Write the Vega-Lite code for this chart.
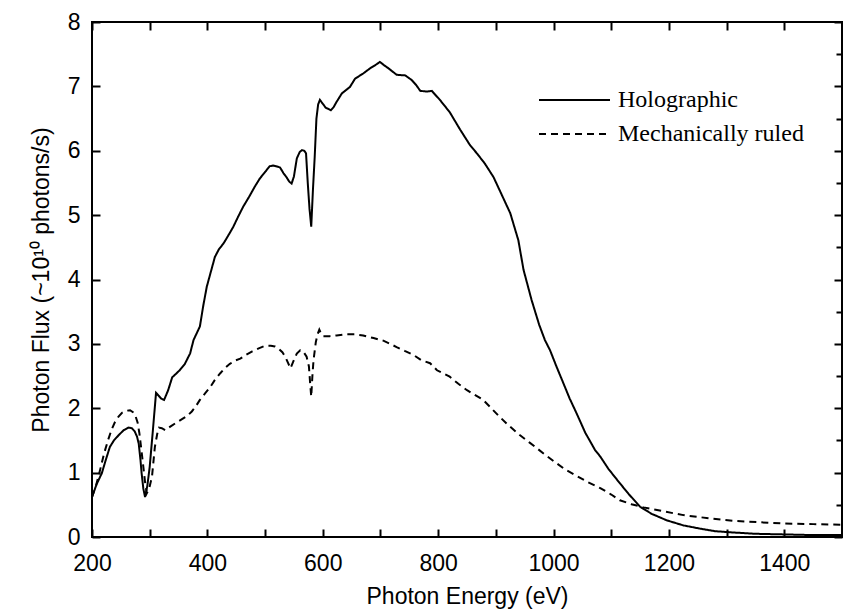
{
  "$schema": "https://vega.github.io/schema/vega-lite/v6.json",
  "autosize": "none",
  "width": 750,
  "height": 515,
  "padding": {"left": 92, "top": 22, "right": 1, "bottom": 78},
  "background": "white",
  "config": {
    "view": {"stroke": "black", "strokeWidth": 2},
    "axis": {
      "grid": false,
      "domain": false,
      "ticks": true,
      "tickColor": "black",
      "tickWidth": 2,
      "tickSize": 8,
      "offset": -8,
      "zindex": 1,
      "labelFont": "Liberation Sans",
      "labelFontSize": 23,
      "labelColor": "black",
      "titleFont": "Liberation Sans",
      "titleFontSize": 23,
      "titleFontWeight": "normal",
      "titleColor": "black",
      "labelOverlap": false,
      "labelFlush": false
    }
  },
  "datasets": {
    "curves": [
      {"E":200,"F":0.62,"series":"Holographic"},
      {"E":208,"F":0.82,"series":"Holographic"},
      {"E":217,"F":0.99,"series":"Holographic"},
      {"E":224,"F":1.2,"series":"Holographic"},
      {"E":231,"F":1.4,"series":"Holographic"},
      {"E":238,"F":1.5,"series":"Holographic"},
      {"E":246,"F":1.58,"series":"Holographic"},
      {"E":255,"F":1.66,"series":"Holographic"},
      {"E":263,"F":1.7,"series":"Holographic"},
      {"E":269,"F":1.69,"series":"Holographic"},
      {"E":274,"F":1.64,"series":"Holographic"},
      {"E":278,"F":1.56,"series":"Holographic"},
      {"E":281,"F":1.45,"series":"Holographic"},
      {"E":284,"F":1.2,"series":"Holographic"},
      {"E":286,"F":0.99,"series":"Holographic"},
      {"E":289,"F":0.75,"series":"Holographic"},
      {"E":292,"F":0.62,"series":"Holographic"},
      {"E":296,"F":0.8,"series":"Holographic"},
      {"E":300,"F":1.09,"series":"Holographic"},
      {"E":305,"F":1.6,"series":"Holographic"},
      {"E":311,"F":2.24,"series":"Holographic"},
      {"E":315,"F":2.2,"series":"Holographic"},
      {"E":320,"F":2.15,"series":"Holographic"},
      {"E":325,"F":2.13,"series":"Holographic"},
      {"E":332,"F":2.28,"series":"Holographic"},
      {"E":339,"F":2.48,"series":"Holographic"},
      {"E":345,"F":2.53,"series":"Holographic"},
      {"E":352,"F":2.59,"series":"Holographic"},
      {"E":361,"F":2.69,"series":"Holographic"},
      {"E":370,"F":2.85,"series":"Holographic"},
      {"E":376,"F":3.06,"series":"Holographic"},
      {"E":387,"F":3.27,"series":"Holographic"},
      {"E":393,"F":3.6,"series":"Holographic"},
      {"E":399,"F":3.89,"series":"Holographic"},
      {"E":406,"F":4.12,"series":"Holographic"},
      {"E":413,"F":4.35,"series":"Holographic"},
      {"E":420,"F":4.47,"series":"Holographic"},
      {"E":428,"F":4.56,"series":"Holographic"},
      {"E":436,"F":4.68,"series":"Holographic"},
      {"E":445,"F":4.82,"series":"Holographic"},
      {"E":453,"F":4.97,"series":"Holographic"},
      {"E":462,"F":5.13,"series":"Holographic"},
      {"E":472,"F":5.28,"series":"Holographic"},
      {"E":482,"F":5.44,"series":"Holographic"},
      {"E":491,"F":5.57,"series":"Holographic"},
      {"E":500,"F":5.67,"series":"Holographic"},
      {"E":508,"F":5.76,"series":"Holographic"},
      {"E":514,"F":5.77,"series":"Holographic"},
      {"E":519,"F":5.76,"series":"Holographic"},
      {"E":526,"F":5.74,"series":"Holographic"},
      {"E":532,"F":5.65,"series":"Holographic"},
      {"E":537,"F":5.59,"series":"Holographic"},
      {"E":542,"F":5.52,"series":"Holographic"},
      {"E":546,"F":5.49,"series":"Holographic"},
      {"E":550,"F":5.6,"series":"Holographic"},
      {"E":555,"F":5.88,"series":"Holographic"},
      {"E":560,"F":5.98,"series":"Holographic"},
      {"E":564,"F":6.01,"series":"Holographic"},
      {"E":568,"F":6.0,"series":"Holographic"},
      {"E":571,"F":5.96,"series":"Holographic"},
      {"E":574,"F":5.5,"series":"Holographic"},
      {"E":577,"F":5.1,"series":"Holographic"},
      {"E":580,"F":4.82,"series":"Holographic"},
      {"E":583,"F":5.4,"series":"Holographic"},
      {"E":586,"F":5.9,"series":"Holographic"},
      {"E":589,"F":6.5,"series":"Holographic"},
      {"E":592,"F":6.72,"series":"Holographic"},
      {"E":595,"F":6.79,"series":"Holographic"},
      {"E":600,"F":6.73,"series":"Holographic"},
      {"E":605,"F":6.67,"series":"Holographic"},
      {"E":614,"F":6.63,"series":"Holographic"},
      {"E":619,"F":6.68,"series":"Holographic"},
      {"E":624,"F":6.76,"series":"Holographic"},
      {"E":633,"F":6.89,"series":"Holographic"},
      {"E":647,"F":6.99,"series":"Holographic"},
      {"E":656,"F":7.12,"series":"Holographic"},
      {"E":670,"F":7.2,"series":"Holographic"},
      {"E":682,"F":7.28,"series":"Holographic"},
      {"E":691,"F":7.33,"series":"Holographic"},
      {"E":699,"F":7.38,"series":"Holographic"},
      {"E":706,"F":7.33,"series":"Holographic"},
      {"E":714,"F":7.28,"series":"Holographic"},
      {"E":728,"F":7.18,"series":"Holographic"},
      {"E":743,"F":7.17,"series":"Holographic"},
      {"E":754,"F":7.1,"series":"Holographic"},
      {"E":762,"F":7.02,"series":"Holographic"},
      {"E":769,"F":6.93,"series":"Holographic"},
      {"E":780,"F":6.92,"series":"Holographic"},
      {"E":789,"F":6.93,"series":"Holographic"},
      {"E":803,"F":6.79,"series":"Holographic"},
      {"E":820,"F":6.6,"series":"Holographic"},
      {"E":838,"F":6.33,"series":"Holographic"},
      {"E":855,"F":6.09,"series":"Holographic"},
      {"E":868,"F":5.95,"series":"Holographic"},
      {"E":881,"F":5.8,"series":"Holographic"},
      {"E":896,"F":5.59,"series":"Holographic"},
      {"E":910,"F":5.32,"series":"Holographic"},
      {"E":925,"F":5.03,"series":"Holographic"},
      {"E":939,"F":4.61,"series":"Holographic"},
      {"E":948,"F":4.15,"series":"Holographic"},
      {"E":962,"F":3.68,"series":"Holographic"},
      {"E":975,"F":3.3,"series":"Holographic"},
      {"E":985,"F":3.06,"series":"Holographic"},
      {"E":994,"F":2.9,"series":"Holographic"},
      {"E":1005,"F":2.65,"series":"Holographic"},
      {"E":1017,"F":2.39,"series":"Holographic"},
      {"E":1028,"F":2.15,"series":"Holographic"},
      {"E":1040,"F":1.92,"series":"Holographic"},
      {"E":1055,"F":1.62,"series":"Holographic"},
      {"E":1072,"F":1.35,"series":"Holographic"},
      {"E":1081,"F":1.25,"series":"Holographic"},
      {"E":1095,"F":1.06,"series":"Holographic"},
      {"E":1110,"F":0.89,"series":"Holographic"},
      {"E":1130,"F":0.67,"series":"Holographic"},
      {"E":1150,"F":0.47,"series":"Holographic"},
      {"E":1170,"F":0.36,"series":"Holographic"},
      {"E":1196,"F":0.26,"series":"Holographic"},
      {"E":1225,"F":0.18,"series":"Holographic"},
      {"E":1254,"F":0.13,"series":"Holographic"},
      {"E":1280,"F":0.09,"series":"Holographic"},
      {"E":1312,"F":0.07,"series":"Holographic"},
      {"E":1350,"F":0.05,"series":"Holographic"},
      {"E":1400,"F":0.04,"series":"Holographic"},
      {"E":1450,"F":0.03,"series":"Holographic"},
      {"E":1500,"F":0.03,"series":"Holographic"},
      {"E":200,"F":0.62,"series":"Mechanically ruled"},
      {"E":207,"F":0.8,"series":"Mechanically ruled"},
      {"E":214,"F":1.04,"series":"Mechanically ruled"},
      {"E":221,"F":1.3,"series":"Mechanically ruled"},
      {"E":228,"F":1.51,"series":"Mechanically ruled"},
      {"E":234,"F":1.67,"series":"Mechanically ruled"},
      {"E":240,"F":1.79,"series":"Mechanically ruled"},
      {"E":246,"F":1.87,"series":"Mechanically ruled"},
      {"E":252,"F":1.93,"series":"Mechanically ruled"},
      {"E":259,"F":1.96,"series":"Mechanically ruled"},
      {"E":266,"F":1.97,"series":"Mechanically ruled"},
      {"E":271,"F":1.94,"series":"Mechanically ruled"},
      {"E":275,"F":1.89,"series":"Mechanically ruled"},
      {"E":279,"F":1.78,"series":"Mechanically ruled"},
      {"E":282,"F":1.62,"series":"Mechanically ruled"},
      {"E":285,"F":1.4,"series":"Mechanically ruled"},
      {"E":289,"F":1.09,"series":"Mechanically ruled"},
      {"E":292,"F":0.85,"series":"Mechanically ruled"},
      {"E":295,"F":0.68,"series":"Mechanically ruled"},
      {"E":299,"F":0.75,"series":"Mechanically ruled"},
      {"E":304,"F":0.94,"series":"Mechanically ruled"},
      {"E":309,"F":1.4,"series":"Mechanically ruled"},
      {"E":313,"F":1.6,"series":"Mechanically ruled"},
      {"E":316,"F":1.7,"series":"Mechanically ruled"},
      {"E":321,"F":1.69,"series":"Mechanically ruled"},
      {"E":327,"F":1.66,"series":"Mechanically ruled"},
      {"E":335,"F":1.71,"series":"Mechanically ruled"},
      {"E":345,"F":1.77,"series":"Mechanically ruled"},
      {"E":356,"F":1.83,"series":"Mechanically ruled"},
      {"E":365,"F":1.88,"series":"Mechanically ruled"},
      {"E":373,"F":1.95,"series":"Mechanically ruled"},
      {"E":380,"F":2.03,"series":"Mechanically ruled"},
      {"E":387,"F":2.13,"series":"Mechanically ruled"},
      {"E":396,"F":2.23,"series":"Mechanically ruled"},
      {"E":405,"F":2.33,"series":"Mechanically ruled"},
      {"E":413,"F":2.44,"series":"Mechanically ruled"},
      {"E":422,"F":2.54,"series":"Mechanically ruled"},
      {"E":430,"F":2.62,"series":"Mechanically ruled"},
      {"E":439,"F":2.69,"series":"Mechanically ruled"},
      {"E":448,"F":2.74,"series":"Mechanically ruled"},
      {"E":457,"F":2.77,"series":"Mechanically ruled"},
      {"E":467,"F":2.83,"series":"Mechanically ruled"},
      {"E":477,"F":2.88,"series":"Mechanically ruled"},
      {"E":489,"F":2.93,"series":"Mechanically ruled"},
      {"E":500,"F":2.97,"series":"Mechanically ruled"},
      {"E":510,"F":2.97,"series":"Mechanically ruled"},
      {"E":517,"F":2.96,"series":"Mechanically ruled"},
      {"E":523,"F":2.93,"series":"Mechanically ruled"},
      {"E":530,"F":2.87,"series":"Mechanically ruled"},
      {"E":535,"F":2.8,"series":"Mechanically ruled"},
      {"E":540,"F":2.7,"series":"Mechanically ruled"},
      {"E":544,"F":2.62,"series":"Mechanically ruled"},
      {"E":550,"F":2.75,"series":"Mechanically ruled"},
      {"E":555,"F":2.85,"series":"Mechanically ruled"},
      {"E":561,"F":2.9,"series":"Mechanically ruled"},
      {"E":567,"F":2.87,"series":"Mechanically ruled"},
      {"E":572,"F":2.8,"series":"Mechanically ruled"},
      {"E":576,"F":2.65,"series":"Mechanically ruled"},
      {"E":578,"F":2.4,"series":"Mechanically ruled"},
      {"E":580,"F":2.18,"series":"Mechanically ruled"},
      {"E":582,"F":2.5,"series":"Mechanically ruled"},
      {"E":584,"F":2.75,"series":"Mechanically ruled"},
      {"E":588,"F":3.03,"series":"Mechanically ruled"},
      {"E":591,"F":3.15,"series":"Mechanically ruled"},
      {"E":594,"F":3.22,"series":"Mechanically ruled"},
      {"E":597,"F":3.16,"series":"Mechanically ruled"},
      {"E":601,"F":3.12,"series":"Mechanically ruled"},
      {"E":612,"F":3.12,"series":"Mechanically ruled"},
      {"E":624,"F":3.13,"series":"Mechanically ruled"},
      {"E":641,"F":3.15,"series":"Mechanically ruled"},
      {"E":655,"F":3.15,"series":"Mechanically ruled"},
      {"E":670,"F":3.13,"series":"Mechanically ruled"},
      {"E":688,"F":3.09,"series":"Mechanically ruled"},
      {"E":705,"F":3.05,"series":"Mechanically ruled"},
      {"E":717,"F":3.0,"series":"Mechanically ruled"},
      {"E":728,"F":2.95,"series":"Mechanically ruled"},
      {"E":742,"F":2.89,"series":"Mechanically ruled"},
      {"E":757,"F":2.83,"series":"Mechanically ruled"},
      {"E":770,"F":2.75,"series":"Mechanically ruled"},
      {"E":786,"F":2.7,"series":"Mechanically ruled"},
      {"E":798,"F":2.59,"series":"Mechanically ruled"},
      {"E":820,"F":2.49,"series":"Mechanically ruled"},
      {"E":835,"F":2.38,"series":"Mechanically ruled"},
      {"E":850,"F":2.28,"series":"Mechanically ruled"},
      {"E":865,"F":2.2,"series":"Mechanically ruled"},
      {"E":878,"F":2.13,"series":"Mechanically ruled"},
      {"E":890,"F":2.02,"series":"Mechanically ruled"},
      {"E":904,"F":1.89,"series":"Mechanically ruled"},
      {"E":920,"F":1.75,"series":"Mechanically ruled"},
      {"E":942,"F":1.58,"series":"Mechanically ruled"},
      {"E":958,"F":1.47,"series":"Mechanically ruled"},
      {"E":971,"F":1.38,"series":"Mechanically ruled"},
      {"E":985,"F":1.28,"series":"Mechanically ruled"},
      {"E":1000,"F":1.18,"series":"Mechanically ruled"},
      {"E":1020,"F":1.05,"series":"Mechanically ruled"},
      {"E":1040,"F":0.95,"series":"Mechanically ruled"},
      {"E":1060,"F":0.85,"series":"Mechanically ruled"},
      {"E":1081,"F":0.76,"series":"Mechanically ruled"},
      {"E":1100,"F":0.66,"series":"Mechanically ruled"},
      {"E":1115,"F":0.57,"series":"Mechanically ruled"},
      {"E":1135,"F":0.51,"series":"Mechanically ruled"},
      {"E":1156,"F":0.46,"series":"Mechanically ruled"},
      {"E":1190,"F":0.4,"series":"Mechanically ruled"},
      {"E":1225,"F":0.34,"series":"Mechanically ruled"},
      {"E":1270,"F":0.29,"series":"Mechanically ruled"},
      {"E":1312,"F":0.25,"series":"Mechanically ruled"},
      {"E":1355,"F":0.23,"series":"Mechanically ruled"},
      {"E":1398,"F":0.21,"series":"Mechanically ruled"},
      {"E":1450,"F":0.2,"series":"Mechanically ruled"},
      {"E":1500,"F":0.19,"series":"Mechanically ruled"}
    ]
  },
  "data": {"name": "curves"},
  "layer": [
    {
      "mark": {"type": "line", "color": "black", "strokeWidth": 2},
      "encoding": {
        "x": {
          "field": "E", "type": "quantitative",
          "scale": {"domain": [200, 1500], "nice": false, "zero": false},
          "axis": {
            "orient": "bottom",
            "title": "Photon Energy (eV)",
            "format": "d",
            "values": [200,300,400,500,600,700,800,900,1000,1100,1200,1300,1400,1500],
            "labelExpr": "datum.value % 200 === 0 && datum.value < 1500 ? datum.label : ''",
            "labelPadding": 15,
            "titlePadding": 10
          }
        },
        "y": {
          "field": "F", "type": "quantitative",
          "scale": {"domain": [0, 8], "nice": false},
          "axis": {
            "orient": "left",
            "title": "Photon Flux (~10¹⁰ photons/s)",
            "format": "d",
            "values": [0,0.5,1,1.5,2,2.5,3,3.5,4,4.5,5,5.5,6,6.5,7,7.5,8],
            "labelExpr": "datum.value % 1 === 0 ? datum.label : ''",
            "labelPadding": 12,
            "titlePadding": 14
          }
        },
        "strokeDash": {
          "field": "series", "type": "nominal",
          "scale": {"domain": ["Holographic", "Mechanically ruled"], "range": [[1, 0], [7, 5]]},
          "legend": {
            "orient": "none",
            "legendX": 446,
            "legendY": 61,
            "title": null,
            "symbolType": "stroke",
            "symbolSize": 5041,
            "symbolStrokeWidth": 2,
            "symbolStrokeColor": "black",
            "labelFont": "Liberation Serif",
            "labelFontSize": 24,
            "labelColor": "black",
            "labelLimit": 400,
            "labelOffset": 7,
            "clipHeight": 34,
            "rowPadding": 0
          }
        }
      }
    },
    {
      "mark": {"type": "line", "opacity": 0},
      "encoding": {
        "x": {
          "field": "E", "type": "quantitative",
          "axis": {
            "orient": "top",
            "title": null,
            "labels": false,
            "values": [200,300,400,500,600,700,800,900,1000,1100,1200,1300,1400,1500]
          }
        },
        "y": {
          "field": "F", "type": "quantitative",
          "axis": {
            "orient": "right",
            "title": null,
            "labels": false,
            "values": [0,0.5,1,1.5,2,2.5,3,3.5,4,4.5,5,5.5,6,6.5,7,7.5,8],
            "tickDash": {"condition": {"test": "datum.value % 1 !== 0", "value": [0, 2, 6, 30]}, "value": [20, 0]}
          }
        },
        "detail": {"field": "series", "type": "nominal"}
      }
    }
  ],
  "resolve": {"axis": {"x": "independent", "y": "independent"}}
}
